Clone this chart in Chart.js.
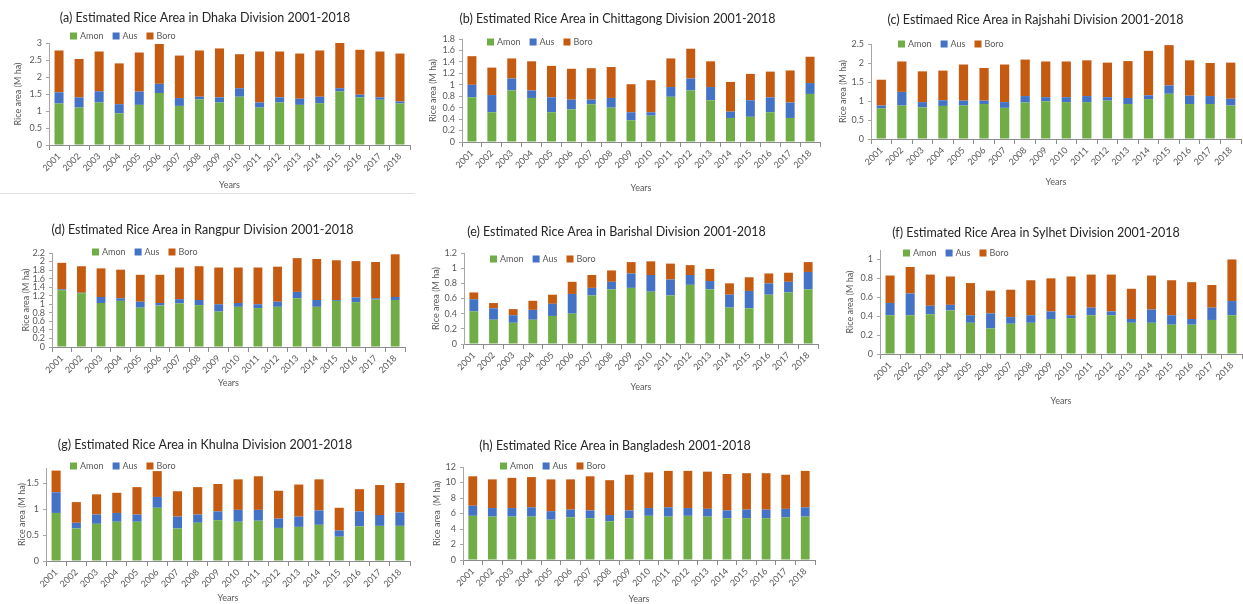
<!DOCTYPE html>
<html>
<head>
<meta charset="utf-8">
<script src="https://cdn.jsdelivr.net/npm/chart.js@4.4.1/dist/chart.umd.min.js"></script>
<style>
  html, body { margin: 0; padding: 0; background: #fff; }
  body { width: 1243px; height: 604px; position: relative; overflow: hidden; }
  .panel { position: absolute; }
  .rule { position: absolute; left: 0; top: 193px; width: 415px; height: 1px; background: #e2e2e2; }
</style>
</head>
<body>
<div class="rule"></div>

<script>
// ------------------------------
// DATA (M ha)
// ------------------------------
const years = ["2001", "2002", "2003", "2004", "2005", "2006", "2007", "2008", "2009",
  "2010", "2011", "2012", "2013", "2014", "2015", "2016", "2017", "2018"];

const dhakaAmon = [1.22, 1.10, 1.25, 0.93, 1.18, 1.53, 1.15, 1.34, 1.25, 1.42, 1.10, 1.25, 1.18, 1.23, 1.58, 1.40, 1.33, 1.22];
const dhakaAus  = [0.33, 0.30, 0.33, 0.27, 0.39, 0.27, 0.23, 0.08, 0.15, 0.25, 0.15, 0.15, 0.18, 0.19, 0.09, 0.08, 0.07, 0.06];
const dhakaBoro = [1.23, 1.13, 1.17, 1.20, 1.15, 1.17, 1.25, 1.36, 1.44, 1.00, 1.50, 1.35, 1.33, 1.36, 1.34, 1.32, 1.35, 1.41];

const chittagongAmon = [0.78, 0.52, 0.90, 0.77, 0.52, 0.57, 0.66, 0.60, 0.38, 0.46, 0.79, 0.90, 0.73, 0.42, 0.44, 0.52, 0.42, 0.84];
const chittagongAus  = [0.22, 0.30, 0.21, 0.13, 0.26, 0.17, 0.08, 0.17, 0.14, 0.06, 0.17, 0.21, 0.23, 0.11, 0.29, 0.26, 0.27, 0.19];
const chittagongBoro = [0.50, 0.48, 0.35, 0.51, 0.55, 0.54, 0.55, 0.54, 0.49, 0.56, 0.50, 0.52, 0.45, 0.52, 0.46, 0.45, 0.56, 0.46];

const rajshahiAmon = [0.81, 0.88, 0.83, 0.87, 0.88, 0.92, 0.82, 0.96, 0.99, 0.97, 0.97, 1.01, 0.92, 1.05, 1.19, 0.92, 0.92, 0.88];
const rajshahiAus  = [0.07, 0.36, 0.14, 0.15, 0.13, 0.09, 0.15, 0.17, 0.11, 0.13, 0.16, 0.09, 0.16, 0.10, 0.22, 0.22, 0.21, 0.18];
const rajshahiBoro = [0.68, 0.80, 0.81, 0.78, 0.95, 0.86, 0.99, 0.96, 0.94, 0.94, 0.94, 0.91, 0.97, 1.17, 1.06, 0.93, 0.87, 0.95];

const rangpurAmon = [1.33, 1.26, 1.03, 1.08, 0.92, 0.97, 1.02, 0.98, 0.83, 0.94, 0.91, 0.94, 1.14, 0.94, 1.08, 1.05, 1.11, 1.10];
const rangpurAus  = [0.02, 0.01, 0.14, 0.06, 0.14, 0.06, 0.10, 0.12, 0.17, 0.09, 0.09, 0.12, 0.15, 0.16, 0.02, 0.11, 0.03, 0.07];
const rangpurBoro = [0.62, 0.62, 0.67, 0.67, 0.63, 0.66, 0.74, 0.79, 0.86, 0.83, 0.86, 0.82, 0.79, 0.96, 0.93, 0.85, 0.85, 1.00];

const barishalAmon = [0.43, 0.32, 0.28, 0.32, 0.37, 0.40, 0.64, 0.72, 0.74, 0.69, 0.64, 0.78, 0.72, 0.48, 0.47, 0.65, 0.68, 0.72];
const barishalAus  = [0.16, 0.15, 0.10, 0.13, 0.16, 0.26, 0.10, 0.10, 0.19, 0.22, 0.21, 0.13, 0.11, 0.17, 0.23, 0.15, 0.14, 0.23];
const barishalBoro = [0.09, 0.07, 0.08, 0.12, 0.12, 0.16, 0.17, 0.15, 0.15, 0.18, 0.21, 0.13, 0.16, 0.15, 0.18, 0.13, 0.12, 0.13];

const sylhetAmon = [0.41, 0.41, 0.42, 0.46, 0.33, 0.27, 0.32, 0.33, 0.37, 0.38, 0.41, 0.41, 0.33, 0.33, 0.31, 0.31, 0.36, 0.41];
const sylhetAus  = [0.13, 0.23, 0.09, 0.06, 0.08, 0.16, 0.07, 0.08, 0.08, 0.03, 0.08, 0.04, 0.04, 0.14, 0.10, 0.06, 0.13, 0.15];
const sylhetBoro = [0.29, 0.28, 0.33, 0.30, 0.34, 0.24, 0.29, 0.37, 0.35, 0.41, 0.35, 0.39, 0.32, 0.36, 0.37, 0.39, 0.24, 0.44];

const khulnaAmon = [0.93, 0.63, 0.72, 0.76, 0.76, 1.03, 0.63, 0.74, 0.79, 0.76, 0.78, 0.64, 0.66, 0.70, 0.47, 0.67, 0.68, 0.68];
const khulnaAus  = [0.40, 0.11, 0.18, 0.17, 0.14, 0.21, 0.23, 0.16, 0.17, 0.23, 0.21, 0.18, 0.20, 0.28, 0.12, 0.29, 0.21, 0.26];
const khulnaBoro = [0.42, 0.40, 0.39, 0.39, 0.53, 0.50, 0.49, 0.53, 0.53, 0.59, 0.65, 0.54, 0.62, 0.60, 0.44, 0.43, 0.58, 0.57];

const bangladeshAmon = [5.7, 5.6, 5.6, 5.6, 5.2, 5.5, 5.4, 5.0, 5.4, 5.7, 5.6, 5.7, 5.6, 5.4, 5.4, 5.4, 5.5, 5.6];
const bangladeshAus  = [1.3, 1.1, 1.1, 1.2, 1.1, 1.0, 1.0, 0.8, 1.0, 1.0, 1.2, 1.0, 1.0, 1.0, 1.1, 1.1, 1.1, 1.2];
const bangladeshBoro = [3.8, 3.7, 3.9, 3.9, 4.1, 3.9, 4.4, 4.5, 4.6, 4.6, 4.7, 4.8, 4.8, 4.7, 4.7, 4.7, 4.4, 4.7];

// ------------------------------
// PANELS (page layout in px)
// ------------------------------
const panels = [
  { title: "(a) Estimated Rice Area in Dhaka Division 2001-2018", amon: dhakaAmon, aus: dhakaAus, boro: dhakaBoro,
    max: 3, step: 0.5, yTitle: "Rice area (M ha)",
    box: [0, 2, 415, 190], titleY: 18, plot: [49, 43, 410, 145], legend: [70, 36], yTitleX: 18, yearsY: 185 },
  { title: "(b) Estimated Rice Area in Chittagong Division 2001-2018", amon: chittagongAmon, aus: chittagongAus, boro: chittagongBoro,
    max: 1.8, step: 0.2, yTitle: "Rice area (M ha)",
    box: [415, 2, 415, 192], titleY: 19, plot: [462, 39, 820, 142], legend: [487, 42], yTitleX: 433, yearsY: 188 },
  { title: "(c) Estimaed Rice Area in Rajshahi Division 2001-2018", amon: rajshahiAmon, aus: rajshahiAus, boro: rajshahiBoro,
    max: 2.5, step: 0.5, yTitle: "Rice area (M ha)",
    box: [830, 2, 413, 186], titleY: 20, plot: [871, 44, 1241, 139], legend: [898, 44], yTitleX: 843, yearsY: 182 },
  { title: "(d) Estimated Rice Area in Rangpur Division 2001-2018", amon: rangpurAmon, aus: rangpurAus, boro: rangpurBoro,
    max: 2.2, step: 0.2, yTitle: "Rice area (M ha)",
    box: [0, 214, 415, 176], titleY: 230, plot: [52, 253, 405, 347], legend: [92, 252], yTitleX: 26, yearsY: 383 },
  { title: "(e) Estimated Rice Area in Barishal Division 2001-2018", amon: barishalAmon, aus: barishalAus, boro: barishalBoro,
    max: 1.2, step: 0.2, yTitle: "Rice area (M ha)",
    box: [415, 214, 415, 180], titleY: 232, plot: [464, 253, 818, 344], legend: [490, 259], yTitleX: 436, yearsY: 387 },
  { title: "(f) Estimated Rice Area in Sylhet Division 2001-2018", amon: sylhetAmon, aus: sylhetAus, boro: sylhetBoro,
    max: 1.1, step: 0.2, yTitle: "Rice area (M ha)",
    box: [830, 214, 413, 193], titleY: 233, plot: [880, 250, 1242, 354], legend: [903, 253], yTitleX: 850, yearsY: 401 },
  { title: "(g) Estimated Rice Area in Khulna Division 2001-2018", amon: khulnaAmon, aus: khulnaAus, boro: khulnaBoro,
    max: 1.8, step: 0.5, yTitle: "Rice area (M ha)",
    box: [0, 428, 415, 176], titleY: 445, plot: [46, 468, 410, 561], legend: [70, 466], yTitleX: 22, yearsY: 598 },
  { title: "(h) Estimated Rice Area in Bangladesh 2001-2018", amon: bangladeshAmon, aus: bangladeshAus, boro: bangladeshBoro,
    max: 12, step: 2, yTitle: "Rice area  (M ha)",
    box: [415, 428, 415, 176], titleY: 446, plot: [463, 467, 815, 560], legend: [500, 466], yTitleX: 437, yearsY: 602 },
];

const AMON_COLOR = "#70ad47";
const AUS_COLOR = "#4472c4";
const BORO_COLOR = "#c55a11";
const FONT = "Lato, 'Liberation Sans', sans-serif";
const TEXT = "#595959";
const TITLE_SIZE = 12.5;
const SMALL = 9;

// excel style legend, sits on top of the plot instead of taking layout space
const excelLegend = {
  id: "excelLegend",
  afterDraw(chart, args, opts) {
    const ctx = chart.ctx;
    let x = opts.x;
    ctx.save();
    ctx.font = SMALL + "px " + FONT;
    ctx.textBaseline = "middle";
    chart.data.datasets.forEach((ds) => {
      ctx.fillStyle = ds.backgroundColor;
      ctx.fillRect(x, opts.y - 3.5, 7, 7);
      ctx.fillStyle = TEXT;
      ctx.fillText(ds.label, x + 10, opts.y + 0.5);
      x += 10 + ctx.measureText(ds.label).width + opts.gap;
    });
    ctx.restore();
  }
};

// ------------------------------
// BUILD CHARTS
// ------------------------------
panels.forEach((p) => {
  const [bl, bt, bw, bh] = p.box;
  const [pl, pt, pr, pb] = p.plot;

  const div = document.createElement("div");
  div.className = "panel";
  div.style.left = bl + "px";
  div.style.top = bt + "px";
  div.style.width = bw + "px";
  div.style.height = bh + "px";
  const canvas = document.createElement("canvas");
  div.appendChild(canvas);
  document.body.appendChild(div);

  const tLine = TITLE_SIZE * 1.2;
  const sLine = SMALL * 1.2;

  new Chart(canvas, {
    type: "bar",
    data: {
      labels: years,
      datasets: [
        { label: "Amon", data: p.amon, backgroundColor: AMON_COLOR },
        { label: "Aus", data: p.aus, backgroundColor: AUS_COLOR },
        { label: "Boro", data: p.boro, backgroundColor: BORO_COLOR },
      ],
    },
    plugins: [excelLegend],
    options: {
      responsive: true,
      maintainAspectRatio: false,
      devicePixelRatio: 1,
      animation: false,
      barPercentage: 0.45,
      categoryPercentage: 1,
      layout: { padding: { left: 0, top: 0, bottom: 0, right: bl + bw - pr } },
      plugins: {
        legend: { display: false },
        tooltip: { enabled: false },
        title: {
          display: true,
          text: p.title,
          color: "#262626",
          font: { family: FONT, size: TITLE_SIZE, weight: "normal" },
          padding: { top: p.titleY - bt - tLine / 2, bottom: pt - p.titleY - tLine / 2 },
        },
        excelLegend: { x: p.legend[0] - bl, y: p.legend[1] - bt, gap: 9 },
      },
      scales: {
        x: {
          stacked: true,
          grid: { display: true, offset: true, drawOnChartArea: false, tickLength: 5, color: "#8c8c8c" },
          border: { color: "#8c8c8c" },
          ticks: {
            font: { family: FONT, size: SMALL },
            color: TEXT,
            minRotation: 45,
            maxRotation: 45,
            autoSkip: false,
            padding: 1,
          },
          title: {
            display: true,
            text: "Years",
            color: TEXT,
            font: { family: FONT, size: SMALL },
            padding: { top: 0, bottom: Math.max(0, bt + bh - p.yearsY - sLine / 2) },
          },
          afterFit(scale) { scale.height = bt + bh - pb; },
        },
        y: {
          stacked: true,
          min: 0,
          max: p.max,
          grid: { drawOnChartArea: false, tickLength: 3, color: "#a6a6a6" },
          border: { color: "#a6a6a6" },
          ticks: {
            stepSize: p.step,
            autoSkip: false,
            font: { family: FONT, size: SMALL },
            color: TEXT,
            padding: 4,
            callback: (v) => String(+Number(v).toFixed(2)),
          },
          // keep only whole steps (excel leaves the odd axis max unlabelled)
          afterBuildTicks(scale) {
            const ticks = [];
            const n = Math.floor(p.max / p.step + 1e-6);
            for (let i = 0; i <= n; i++) ticks.push({ value: +(i * p.step).toFixed(4) });
            scale.ticks = ticks;
          },
          title: {
            display: true,
            text: p.yTitle,
            color: TEXT,
            font: { family: FONT, size: SMALL },
            padding: { top: p.yTitleX - bl - sLine / 2, bottom: 0 },
          },
          afterFit(scale) { scale.width = pl - bl; },
        },
      },
    },
  });
});
</script>
</body>
</html>
